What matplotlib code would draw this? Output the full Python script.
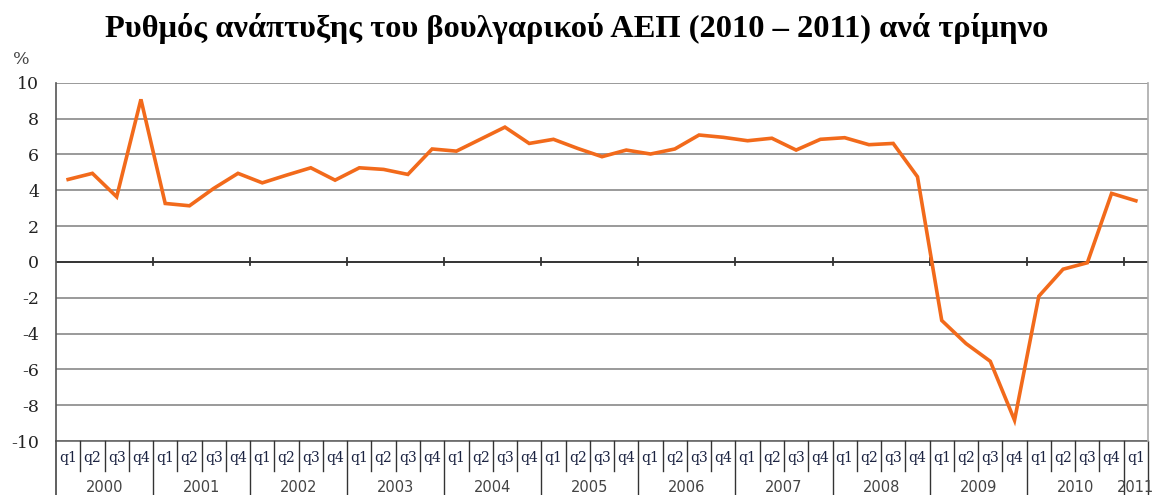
import matplotlib
matplotlib.use("Agg")
import matplotlib.pyplot as plt
import matplotlib.transforms as mtransforms

title = "Ρυθμός ανάπτυξης του βουλγαρικού ΑΕΠ (2010 – 2011) ανά τρίμηνο"
years = ["2000", "2001", "2002", "2003", "2004", "2005", "2006", "2007",
         "2008", "2009", "2010", "2011"]
quarters_per_year = [4, 4, 4, 4, 4, 4, 4, 4, 4, 4, 4, 1]
quarter_names = ["q1", "q2", "q3", "q4"]
growth = [4.6, 4.94, 3.63, 9.07,
          3.26, 3.13, 4.1, 4.94,
          4.41, 4.84, 5.25, 4.56,
          5.25, 5.16, 4.88, 6.3,
          6.18, 6.85, 7.52, 6.61,
          6.84, 6.33, 5.87, 6.24,
          6.02, 6.3, 7.08, 6.95,
          6.76, 6.9, 6.24, 6.84,
          6.93, 6.54, 6.61, 4.75,
          -3.27, -4.56, -5.55, -8.84,
          -1.92, -0.41, -0.05, 3.82,
          3.41]
yticks = [-10, -8, -6, -4, -2, 0, 2, 4, 6, 8, 10]

W, H = 1154, 495
fig = plt.figure(figsize=(W / 100, H / 100), dpi=100)
left, right, top, bottom = 56, 1148, 82.7, 441
ax = fig.add_axes([left / W, 1 - bottom / H, (right - left) / W, (bottom - top) / H])

n = len(growth)
xs = [i + 0.5 for i in range(n)]
ax.set_xlim(0, n)
ax.set_ylim(-10, 10)

grid_color = "#9a9a9a"
for y in yticks:
    if y == 0:
        continue
    ax.axhline(y, color=grid_color, lw=1.4, zorder=1)
ax.axhline(0, color="#333333", lw=1.4, zorder=2)

# year ticks on zero line
pos = 0
for q in quarters_per_year[:-1]:
    pos += q
    ax.plot([pos, pos], [-0.2, 0.2], color="#333333", lw=1.3, zorder=2)

ax.plot(xs, growth, color="#F26A1B", lw=2.6, zorder=3, solid_joinstyle="miter")

ax.set_yticks(yticks)
ax.set_yticklabels([str(v) for v in yticks], family="DejaVu Serif", fontsize=12.5, color="#222222")
ax.tick_params(axis="y", length=0, pad=12)
ax.set_xticks([])
for s in ["top", "bottom"]:
    ax.spines[s].set_visible(False)
ax.spines["left"].set_color("#555555")
ax.spines["right"].set_color("#aaaaaa")
ax.spines["left"].set_linewidth(1.2)
ax.spines["right"].set_linewidth(1.2)

# category table below the axis
trans = mtransforms.blended_transform_factory(ax.transData, fig.transFigure)
def fy(py):
    return 1 - py / H

ax.plot([0, n], [fy(bottom), fy(bottom)], transform=trans, color="#666666", lw=1.2, clip_on=False)
ax.plot([0, 0], [fy(bottom), 0], transform=trans, color="#444444", lw=1.2, clip_on=False)
idx = 0
for yi, (yr, nq) in enumerate(zip(years, quarters_per_year)):
    for q in range(nq):
        ax.text(idx + q + 0.5, fy(458), quarter_names[q], transform=trans, ha="center", va="center",
                family="DejaVu Serif", fontsize=10, color="#1a2240")
        if q > 0:
            ax.plot([idx + q, idx + q], [fy(bottom), fy(471)], transform=trans,
                    color="#333333", lw=1.0, clip_on=False)
    ax.text(idx + nq / 2, fy(488), yr, transform=trans, ha="center", va="center",
            family="DejaVu Sans", fontsize=10.5, color="#444444")
    idx += nq
    ax.plot([idx, idx], [fy(bottom), 0], transform=trans, color="#333333", lw=1.0, clip_on=False)

fig.text(21 / W, fy(59), "%", ha="center", va="center", family="DejaVu Serif", fontsize=12.5, color="#444444")
fig.text(577 / W, fy(28), title, ha="center", va="center", family="Liberation Serif",
         fontweight="bold", fontsize=23.4, color="black")

fig.savefig("out.png", dpi=100, facecolor="white")
